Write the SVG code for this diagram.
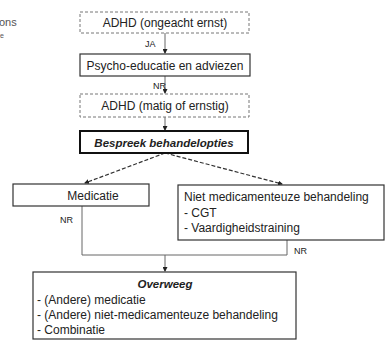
<svg xmlns="http://www.w3.org/2000/svg" width="388" height="340" viewBox="0 0 388 340">
<defs>
<style>
text{font-family:"Liberation Sans","DejaVu Sans",sans-serif;font-size:12px;fill:#222}
.c{text-anchor:middle}
.bi{font-weight:bold;font-style:italic;font-size:11.5px}
.dash{fill:#fff;stroke:#777;stroke-width:1;stroke-dasharray:3 2}
.solid{fill:#fff;stroke:#333;stroke-width:1.2}
.thick{fill:#fff;stroke:#111;stroke-width:2}
.ln{fill:none;stroke:#666;stroke-width:1}
.dl{fill:none;stroke:#333;stroke-width:1.2;stroke-dasharray:4 2}
.lbl{font-size:9px}
.frag{fill:#555;font-size:11px}
</style>
<marker id="ah" markerWidth="5" markerHeight="5" refX="4" refY="2.5" orient="auto" markerUnits="userSpaceOnUse">
<path d="M0,0 L5,2.5 L0,5 Z" fill="#222"/>
</marker>
</defs>
<rect width="388" height="340" fill="#fff"/>
<g id="fragment">
<text class="frag" x="-1" y="26">ons</text>
<text class="frag" x="0" y="38" style="font-size:7px">e</text>
</g>
<g id="connectors">
<line class="ln" x1="165" y1="33" x2="165" y2="53" marker-end="url(#ah)"/>
<line class="ln" x1="165" y1="76" x2="165" y2="93" marker-end="url(#ah)"/>
<line class="ln" x1="165" y1="117" x2="165" y2="130" marker-end="url(#ah)"/>
<line class="dl" x1="165" y1="153" x2="85" y2="183" marker-end="url(#ah)"/>
<line class="dl" x1="165" y1="153" x2="282" y2="184" marker-end="url(#ah)"/>
<polyline class="ln" points="82,206 82,255 165,255 165,271" marker-end="url(#ah)"/>
<polyline class="ln" points="287,240 287,255 165,255"/>
<text class="lbl" x="145" y="47">JA</text>
<text class="lbl" x="153" y="89">NR</text>
<text class="lbl" x="60" y="223">NR</text>
<text class="lbl" x="294" y="254">NR</text>
</g>
<g id="n1"><rect class="dash" x="80" y="12" width="169" height="21"/><text class="c" x="165" y="27">ADHD (ongeacht ernst)</text></g>
<g id="n2"><rect class="solid" x="80" y="54" width="170" height="22"/><text class="c" x="165" y="69.5">Psycho-educatie en adviezen</text></g>
<g id="n3"><rect class="dash" x="80" y="94" width="169" height="23"/><text class="c" x="165" y="110">ADHD (matig of ernstig)</text></g>
<g id="n4"><rect class="thick" x="80" y="131" width="168" height="22"/><text class="c bi" x="164" y="146.5">Bespreek behandelopties</text></g>
<g id="n5"><rect class="solid" x="13" y="184" width="136" height="22"/><text class="c" x="93" y="199.5">Medicatie</text></g>
<g id="n6"><rect class="solid" x="178" y="185" width="206" height="55"/>
<text x="184" y="201">Niet medicamenteuze  behandeling</text>
<text x="184" y="217">- CGT</text>
<text x="184" y="232">- Vaardigheidstraining</text></g>
<g id="n7"><rect class="solid" x="33" y="272" width="263" height="67"/>
<text class="c bi" x="165" y="288">Overweeg</text>
<text x="37" y="304">- (Andere) medicatie</text>
<text x="37" y="319">- (Andere) niet-medicamenteuze behandeling</text>
<text x="37" y="334">- Combinatie</text></g>
</svg>
